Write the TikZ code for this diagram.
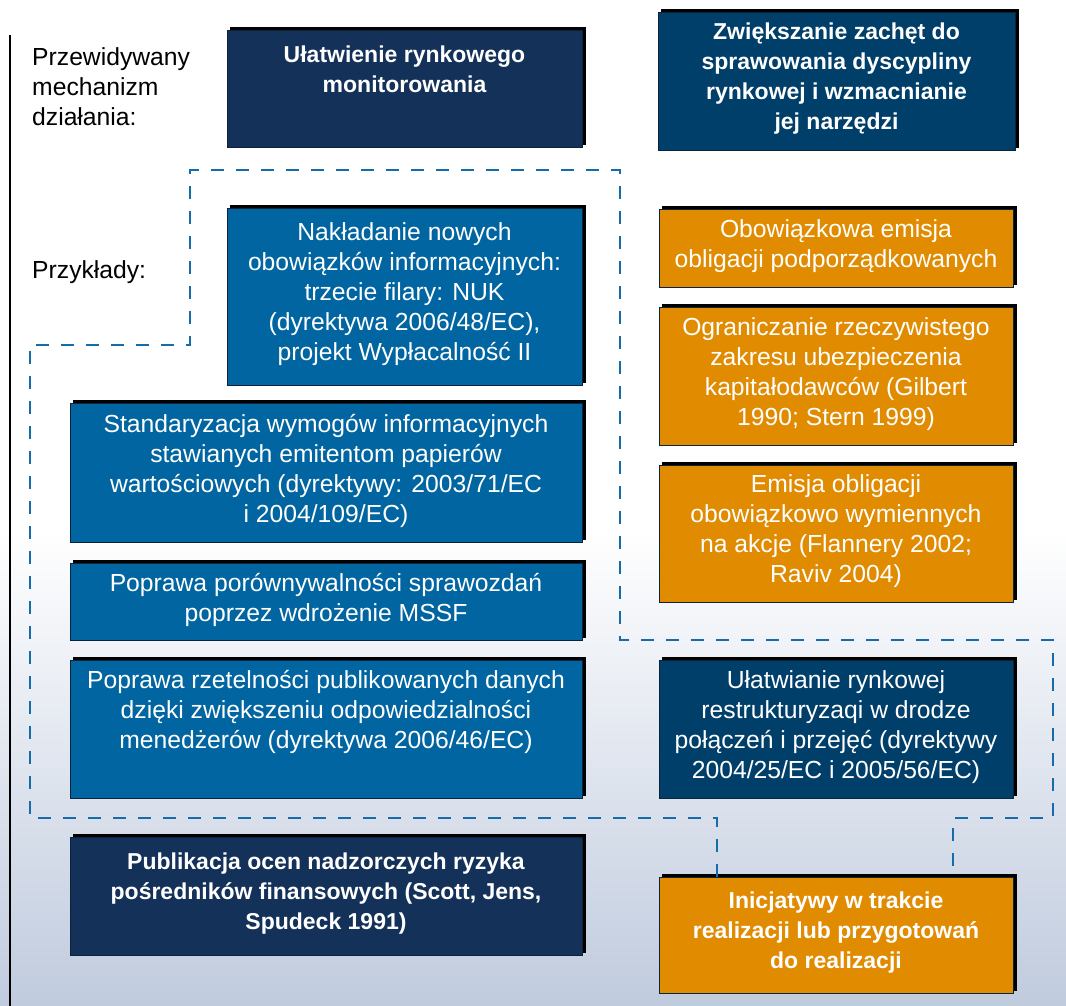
\documentclass[tikz,border=0pt]{standalone}
\usepackage{fontspec}
\setmainfont{Liberation Sans}
\definecolor{navy}{RGB}{20,49,89}
\definecolor{dblue}{RGB}{0,63,106}
\definecolor{mblue}{RGB}{0,101,160}
\definecolor{orng}{RGB}{225,139,0}
\definecolor{dashc}{RGB}{22,108,168}
\definecolor{bordc}{RGB}{10,35,60}
\definecolor{bgbot}{RGB}{192,203,222}
\newcommand\regf{\fontsize{24.7}{30}\selectfont}
\newcommand\boldf{\fontsize{23}{30}\selectfont\bfseries}
\tikzset{
  box/.style={draw=bordc, line width=0.9pt, text=white, align=center, inner sep=1pt,
    font=\regf,
    preaction={draw=black, fill=black, line width=0.9pt, transform canvas={xshift=3pt, yshift=3pt}},
    execute at begin node=\strut, execute at end node=\strut},
  bbox/.style={box, font=\boldf},
  lab/.style={inner sep=0pt, align=left, font=\regf, text=black,
    execute at begin node=\strut, execute at end node=\strut},
  region/.style={draw=dashc, line width=2.8pt, dash pattern=on 13pt off 12pt}
}
\begin{document}
\begin{tikzpicture}[x=1pt,y=-1pt]
\useasboundingbox (0,0) rectangle (1066,1006);
\fill[white] (0,0) rectangle (1066,530);
\shade[top color=white, bottom color=bgbot] (0,530) rectangle (1066,1006);
\draw[black, line width=2pt] (9.5,35) -- (9.5,1006);

\node[lab, anchor=north west] (mech) at (32,47) {Przewidywany\\mechanizm\\działania:};
\node[lab, anchor=north west] (przyk) at (32,257) {Przykłady:};

% boxes
\node[bbox, fill=navy, minimum width=355pt, minimum height=117pt] (b1) at (404.5,88.5)
  {Ułatwienie rynkowego\\monitorowania\\ \mbox{}};
\node[bbox, fill=dblue, minimum width=357pt, minimum height=138pt] (b2) at (836.5,81)
  {Zwiększanie zachęt do\\sprawowania dyscypliny\\rynkowej i wzmacnianie\\jej narzędzi};
\node[box, fill=mblue, minimum width=355pt, minimum height=177pt] (b3) at (404.5,296.5)
  {Nakładanie nowych\\obowiązków informacyjnych:\\trzecie filary: NUK\\(dyrektywa 2006/48/EC),\\projekt Wypłacalność II};
\node[box, fill=mblue, minimum width=512pt, minimum height=139pt] (b4) at (326,472.5)
  {Standaryzacja wymogów informacyjnych\\stawianych emitentom papierów\\wartościowych (dyrektywy: 2003/71/EC\\i 2004/109/EC)};
\node[box, fill=mblue, minimum width=512pt, minimum height=77pt] (b5) at (326,601.5)
  {Poprawa porównywalności sprawozdań\\poprzez wdrożenie MSSF};
\node[box, fill=mblue, minimum width=512pt, minimum height=138pt] (b6) at (326,729)
  {Poprawa rzetelności publikowanych danych\\dzięki zwiększeniu odpowiedzialności\\menedżerów (dyrektywa 2006/46/EC)\\ \mbox{}};
\node[bbox, fill=navy, minimum width=512pt, minimum height=118pt] (b7) at (326,896)
  {Publikacja ocen nadzorczych ryzyka\\pośredników finansowych (Scott, Jens,\\Spudeck 1991)};

\node[box, fill=orng, minimum width=354pt, minimum height=78pt] (b8) at (836,248)
  {Obowiązkowa emisja\\obligacji podporządkowanych};
\node[box, fill=orng, minimum width=354pt, minimum height=138pt] (b9) at (836,376)
  {Ograniczanie rzeczywistego\\zakresu ubezpieczenia\\kapitałodawców (Gilbert\\1990; Stern 1999)};
\node[box, fill=orng, minimum width=354pt, minimum height=137pt] (b10) at (836,533.5)
  {Emisja obligacji\\obowiązkowo wymiennych\\na akcje (Flannery 2002;\\Raviv 2004)};
\node[box, fill=dblue, minimum width=354pt, minimum height=138pt] (b11) at (836,729)
  {Ułatwianie rynkowej\\restrukturyzaqi w drodze\\połączeń i przejęć (dyrektywy\\2004/25/EC i 2005/56/EC)};
\node[bbox, fill=orng, minimum width=354pt, minimum height=116pt] (b12) at (836,935)
  {Inicjatywy w trakcie\\realizacji lub przygotowań\\do realizacji};

% dashed region outline
\coordinate (dl) at (717,818);
\coordinate (dr) at (953,818);
\draw[region] (dl |- b12.north) -- (dl) -- (30,818) -- (30,345) -- (190,345) -- (190,170)
  -- (620,170) -- (620,640) -- (1053,640) -- (1053,818) -- (dr) -- (dr |- b12.north);
\end{tikzpicture}
\end{document}
